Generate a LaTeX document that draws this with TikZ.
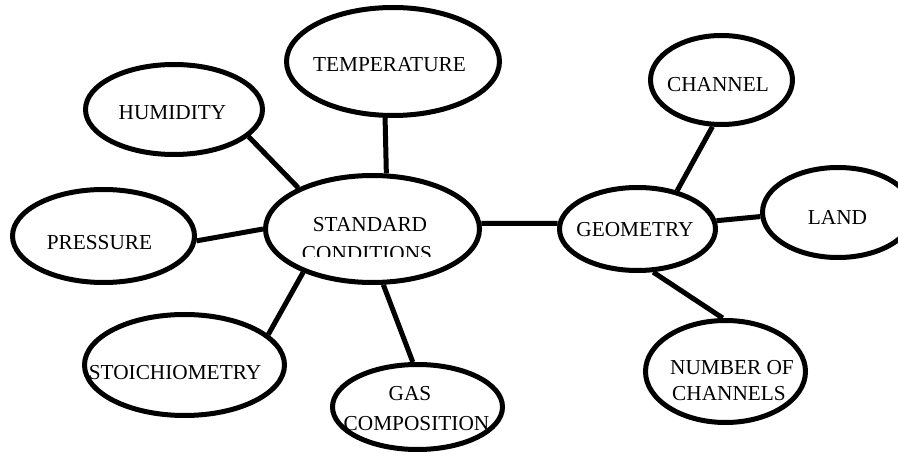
\documentclass[tikz,border=0pt]{standalone}
\usepackage{fontspec}
\setmainfont{Liberation Serif}
\usetikzlibrary{shapes.geometric}
\begin{document}
\begin{tikzpicture}[x=1pt,y=-1pt,
  bubble/.style={ellipse, draw=black, line width=5pt, fill=white, inner sep=0pt},
  link/.style={line width=5pt, draw=black},
  caption/.style={anchor=base, inner sep=0pt, font=\fontsize{21.3pt}{25pt}\selectfont}]
\useasboundingbox (0,0) rectangle (898,457);
\clip (0,0) rectangle (898,457);

% bubbles
\node[bubble, minimum width=213pt, minimum height=108pt] (temp)   at (393,61.5)   {};
\node[bubble, minimum width=214pt, minimum height=107pt] (std)    at (372.5,229)  {};
\node[bubble, minimum width=177pt, minimum height=90pt]  (hum)    at (174,109.5)  {};
\node[bubble, minimum width=182pt, minimum height=93pt]  (pres)   at (103.5,236)  {};
\node[bubble, minimum width=200pt, minimum height=101pt] (stoich) at (184.5,365)  {};
\node[bubble, minimum width=170pt, minimum height=85pt]  (gas)    at (417.5,407)  {};
\node[bubble, minimum width=156pt, minimum height=83pt]  (geo)    at (637.5,229)  {};
\node[bubble, minimum width=142pt, minimum height=89pt]  (chan)   at (721.5,80)   {};
\node[bubble, minimum width=151pt, minimum height=90pt]  (land)   at (838,212.5)  {};
\node[bubble, minimum width=160pt, minimum height=102pt] (num)    at (725.5,371.5){};

% connectors
\draw[link] (hum.-20)  -- (std.151);
\draw[link] (pres.-3)  -- (std.180);
\draw[link] (stoich.20) -- (std.212);
\draw[link] (std.-79)  -- (gas.96);
\draw[link] (temp.-98) -- (std.76);
\draw[link] (std.3)    -- (geo.176);
\draw[link] (geo.44)   -- (chan.259);
\draw[link] (geo.6)    -- (land.183);
\draw[link] (geo.-70)  -- (num.93);

% labels
\node[caption] (temp-t)   at (389.5,72)  {TEMPERATURE};
\node[caption] (hum-t)    at (172.5,120) {HUMIDITY};
\node[caption] (pres-t)   at (99.5,250)  {PRESSURE};
\node[caption] (std-t1)   at (370,232)   {STANDARD};
\begin{scope}
  \clip (290,238) rectangle (450,256.5);
  \node[caption] (std-t2) at (367,261) {CONDITIONS};
\end{scope}
\node[caption] (stoich-t) at (175,380)   {STOICHIOMETRY};
\node[caption] (gas-t1)   at (410,400)   {GAS};
\node[caption] (gas-t2)   at (416.5,430) {COMPOSITION};
\node[caption] (geo-t)    at (635,237)   {GEOMETRY};
\node[caption] (chan-t)   at (718,92)    {CHANNEL};
\node[caption] (land-t)   at (837.5,225) {LAND};
\node[caption] (num-t1)   at (732,375)   {NUMBER OF};
\node[caption] (num-t2)   at (729,400)   {CHANNELS};
\end{tikzpicture}
\end{document}
